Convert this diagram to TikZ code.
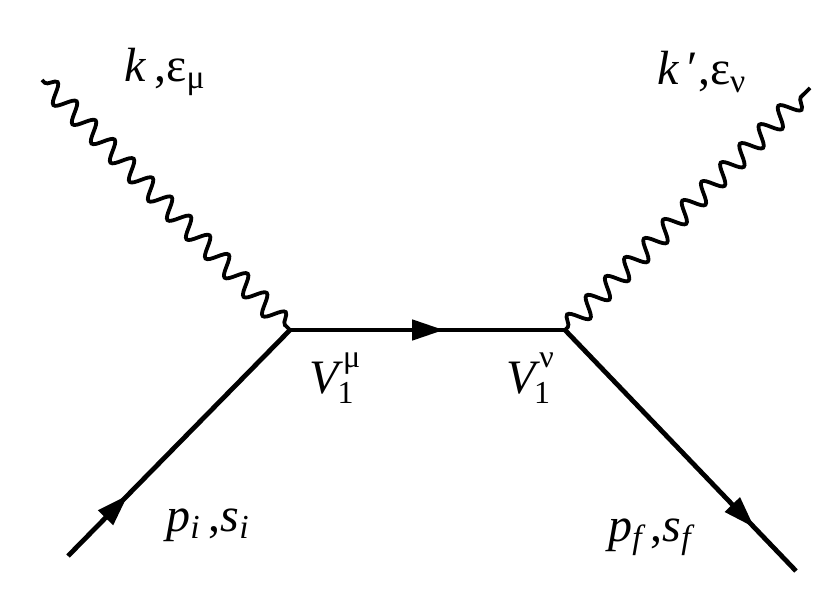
\documentclass[tikz,border=0pt]{standalone}
\usepackage{fontspec}
\setmainfont{Liberation Serif}
\usetikzlibrary{arrows.meta,decorations.pathmorphing,decorations.markings}
\tikzset{
  fermion/.style={line width=2.4pt,postaction={decorate},
    decoration={markings,mark=at position #1 with {\arrow{Triangle[length=16pt,width=10pt]}}}},
  photon/.style={line width=1.9pt,decorate,
    decoration={snake,segment length=13.5pt,amplitude=4.8pt,pre length=2pt,post length=2pt}},
  lbl/.style={font=\fontsize{24}{26}\selectfont},
}
\begin{document}
\begin{tikzpicture}[x=0.5pt,y=-0.5pt]
  \useasboundingbox (0,0) rectangle (830,604);
  \coordinate (v1) at (290,330);
  \coordinate (v2) at (565,330);
  \coordinate (pin) at (68,556);
  \coordinate (pout) at (796,571);
  \coordinate (kin) at (42,80);
  \coordinate (kout) at (810,88);

  \draw[fermion=0.27] (pin) -- (v1);
  \draw[fermion=0.56] (v1) -- (v2);
  \draw[fermion=0.82] (v2) -- (pout);
  \draw[photon] (kin) -- (v1);
  \draw[photon] (v2) -- (kout);

  % labels
  \node[lbl] (lk) at (165,72) {\textit{k}\,,ε\textsubscript{μ}};
  \node[lbl] (lkp) at (702,72) {\textit{k}\,′,ε\textsubscript{ν}};
  \node[lbl] (lv1) at (335,378) {\textit{V}\kern-3pt\raisebox{-5pt}{\fontsize{16}{16}\selectfont 1}\kern-8pt\raisebox{13pt}{\fontsize{16}{16}\selectfont\,μ}};
  \node[lbl] (lv2) at (530,378) {\textit{V}\kern-3pt\raisebox{-5pt}{\fontsize{16}{16}\selectfont 1}\kern-8pt\raisebox{13pt}{\fontsize{16}{16}\selectfont\,ν}};
  \node[lbl] (lpi) at (208,525) {\textit{p\textsubscript{i}}\,,\textit{s\textsubscript{i}}};
  \node[lbl] (lpf) at (650,537) {\textit{p\textsubscript{f}}\,,\textit{s\textsubscript{f}}};
\end{tikzpicture}
\end{document}
